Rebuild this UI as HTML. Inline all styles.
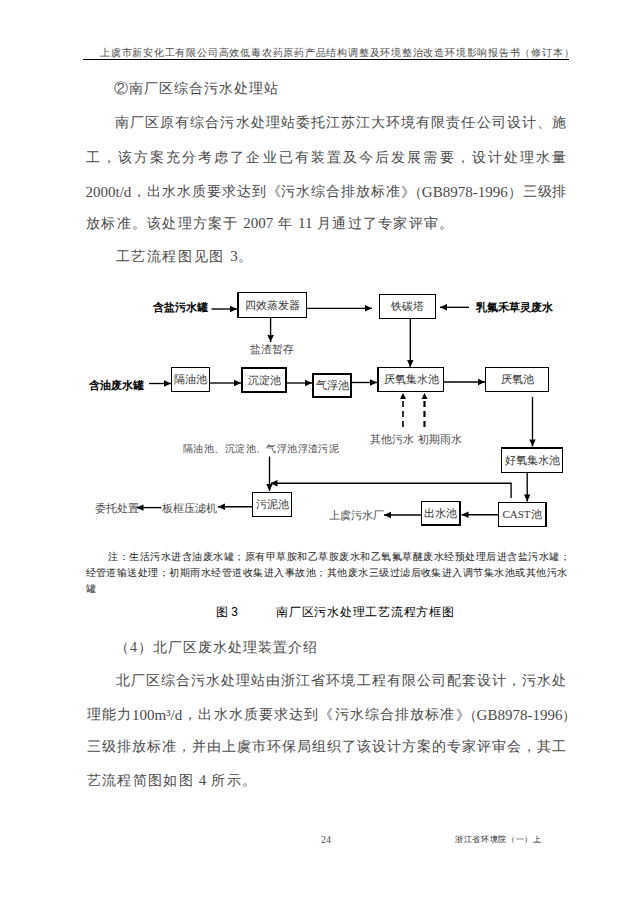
<!DOCTYPE html>
<html><head><meta charset="utf-8"><style>
html,body{margin:0;padding:0;background:#fff;width:636px;height:900px;overflow:hidden;}
body{position:relative;font-family:"Liberation Serif",serif;color:#4a4a4a;}
.j,.n{position:absolute;white-space:nowrap;}
.j{display:flex;justify-content:space-between;height:1em;}
i{font-style:normal;white-space:nowrap;}
.big .lt{font-size:15px;letter-spacing:0;}
.n .lt{line-height:0;}
.note{color:#222;}
.cap{color:#000;font-family:"Liberation Sans",sans-serif;}
.b{color:#000;font-family:"Liberation Sans",sans-serif;font-weight:bold;}
sup{font-size:60%;line-height:0;vertical-align:0.55em;}
.box{position:absolute;box-sizing:border-box;border:2px solid #000;display:flex;align-items:center;justify-content:center;font-size:11px;line-height:11px;color:#333;}
</style></head><body>
<div class="j " style="left:100px;top:48px;font-size:10px;line-height:10px;width:474px;"><i>上</i><i>虞</i><i>市</i><i>新</i><i>安</i><i>化</i><i>工</i><i>有</i><i>限</i><i>公</i><i>司</i><i>高</i><i>效</i><i>低</i><i>毒</i><i>农</i><i>药</i><i>原</i><i>药</i><i>产</i><i>品</i><i>结</i><i>构</i><i>调</i><i>整</i><i>及</i><i>环</i><i>境</i><i>整</i><i>治</i><i>改</i><i>造</i><i>环</i><i>境</i><i>影</i><i>响</i><i>报</i><i>告</i><i>书</i><i>（</i><i>修</i><i>订</i><i>本</i><i>）</i></div>
<div style="position:absolute;left:83px;top:59px;width:486px;height:1.4px;background:#000"></div>
<div class="n " style="left:114px;top:82px;font-size:14px;line-height:14px;letter-spacing:1px;">②南厂区综合污水处理站</div>
<div class="j " style="left:115px;top:116px;font-size:14px;line-height:14px;width:451px;"><i>南</i><i>厂</i><i>区</i><i>原</i><i>有</i><i>综</i><i>合</i><i>污</i><i>水</i><i>处</i><i>理</i><i>站</i><i>委</i><i>托</i><i>江</i><i>苏</i><i>江</i><i>大</i><i>环</i><i>境</i><i>有</i><i>限</i><i>责</i><i>任</i><i>公</i><i>司</i><i>设</i><i>计</i><i>、</i><i>施</i></div>
<div class="j " style="left:85.5px;top:151px;font-size:14px;line-height:14px;width:481px;"><i>工</i><i>，</i><i>该</i><i>方</i><i>案</i><i>充</i><i>分</i><i>考</i><i>虑</i><i>了</i><i>企</i><i>业</i><i>已</i><i>有</i><i>装</i><i>置</i><i>及</i><i>今</i><i>后</i><i>发</i><i>展</i><i>需</i><i>要</i><i>，</i><i>设</i><i>计</i><i>处</i><i>理</i><i>水</i><i>量</i></div>
<div class="j big" style="left:85.5px;top:185px;font-size:14px;line-height:14px;width:481px;"><i><span class="lt">2000t/d</span></i><i>，</i><i>出</i><i>水</i><i>水</i><i>质</i><i>要</i><i>求</i><i>达</i><i>到</i><i>《</i><i>污</i><i>水</i><i>综</i><i>合</i><i>排</i><i>放</i><i>标</i><i>准</i><i>》<span style="margin-left:-0.5em">（</span><span class="lt">GB8978-1996</span>）</i><i>三</i><i>级</i><i>排</i></div>
<div class="n big" style="left:86px;top:217px;font-size:14px;line-height:14px;letter-spacing:1.25px;">放标准。该处理方案于 <span class="lt">2007</span> 年 <span class="lt">11</span> 月通过了专家评审。</div>
<div class="n big" style="left:115.5px;top:250px;font-size:14px;line-height:14px;letter-spacing:1.65px;">工艺流程图见图 <span class="lt">3</span>。</div>
<div class="n " style="left:115px;top:641px;font-size:14px;line-height:14px;letter-spacing:1px;">（4）北厂区废水处理装置介绍</div>
<div class="j " style="left:115.5px;top:674px;font-size:14px;line-height:14px;width:451px;"><i>北</i><i>厂</i><i>区</i><i>综</i><i>合</i><i>污</i><i>水</i><i>处</i><i>理</i><i>站</i><i>由</i><i>浙</i><i>江</i><i>省</i><i>环</i><i>境</i><i>工</i><i>程</i><i>有</i><i>限</i><i>公</i><i>司</i><i>配</i><i>套</i><i>设</i><i>计</i><i>，</i><i>污</i><i>水</i><i>处</i></div>
<div class="j big" style="left:86.5px;top:708px;font-size:14px;line-height:14px;width:490px;"><i>理</i><i>能</i><i>力</i><i><span class="lt">100m³/d</span></i><i>，</i><i>出</i><i>水</i><i>水</i><i>质</i><i>要</i><i>求</i><i>达</i><i>到</i><i>《</i><i>污</i><i>水</i><i>综</i><i>合</i><i>排</i><i>放</i><i>标</i><i>准</i><i>》<span style="margin-left:-0.5em">（</span><span class="lt">GB8978-1996</span>）</i></div>
<div class="j " style="left:86.5px;top:740px;font-size:14px;line-height:14px;width:480px;"><i>三</i><i>级</i><i>排</i><i>放</i><i>标</i><i>准</i><i>，</i><i>并</i><i>由</i><i>上</i><i>虞</i><i>市</i><i>环</i><i>保</i><i>局</i><i>组</i><i>织</i><i>了</i><i>该</i><i>设</i><i>计</i><i>方</i><i>案</i><i>的</i><i>专</i><i>家</i><i>评</i><i>审</i><i>会</i><i>，</i><i>其</i><i>工</i></div>
<div class="n big" style="left:86.5px;top:774px;font-size:14px;line-height:14px;letter-spacing:1.35px;">艺流程简图如图 <span class="lt">4</span> 所示。</div>
<div class="j note" style="left:108px;top:552px;font-size:10px;line-height:10px;width:462px;"><i>注</i><i>：</i><i>生</i><i>活</i><i>污</i><i>水</i><i>进</i><i>含</i><i>油</i><i>废</i><i>水</i><i>罐</i><i>；</i><i>原</i><i>有</i><i>甲</i><i>草</i><i>胺</i><i>和</i><i>乙</i><i>草</i><i>胺</i><i>废</i><i>水</i><i>和</i><i>乙</i><i>氧</i><i>氟</i><i>草</i><i>醚</i><i>废</i><i>水</i><i>经</i><i>预</i><i>处</i><i>理</i><i>后</i><i>进</i><i>含</i><i>盐</i><i>污</i><i>水</i><i>罐</i><i>；</i></div>
<div class="j note" style="left:85.5px;top:568px;font-size:10px;line-height:10px;width:482px;"><i>经</i><i>管</i><i>道</i><i>输</i><i>送</i><i>处</i><i>理</i><i>；</i><i>初</i><i>期</i><i>雨</i><i>水</i><i>经</i><i>管</i><i>道</i><i>收</i><i>集</i><i>进</i><i>入</i><i>事</i><i>故</i><i>池</i><i>；</i><i>其</i><i>他</i><i>废</i><i>水</i><i>三</i><i>级</i><i>过</i><i>滤</i><i>后</i><i>收</i><i>集</i><i>进</i><i>入</i><i>调</i><i>节</i><i>集</i><i>水</i><i>池</i><i>或</i><i>其</i><i>他</i><i>污</i><i>水</i></div>
<div class="n note" style="left:85.5px;top:584px;font-size:10px;line-height:10px;">罐</div>
<div class="n cap" style="left:216px;top:606px;font-size:12px;line-height:12px;">图 3</div>
<div class="j cap" style="left:276px;top:606px;font-size:12px;line-height:12px;width:178px;"><i>南</i><i>厂</i><i>区</i><i>污</i><i>水</i><i>处</i><i>理</i><i>工</i><i>艺</i><i>流</i><i>程</i><i>方</i><i>框</i><i>图</i></div>
<div class="n " style="left:321px;top:835px;font-size:10px;line-height:10px;">24</div>
<div class="j note" style="left:455px;top:836px;font-size:8px;line-height:8px;width:86px;"><i>浙</i><i>江</i><i>省</i><i>环</i><i>境</i><i>院</i><i>（</i><i>一</i><i>）</i><i>上</i></div>
<div class="box" style="left:237px;top:292px;width:70px;height:26px;border-width:1.3px 1.3px 1.4px 2.2px;"><span>四效蒸发器</span></div>
<div class="box" style="left:379px;top:294px;width:57px;height:25px;border-width:1.2px 1.2px 1.2px 1.2px;"><span>铁碳塔</span></div>
<div class="box" style="left:171px;top:367px;width:39px;height:25px;border-width:1.2px 1.2px 1.2px 1.2px;"><span>隔油池</span></div>
<div class="box" style="left:241px;top:367px;width:46px;height:26px;border-width:2px 2px 2px 2px;"><span>沉淀池</span></div>
<div class="box" style="left:312px;top:373px;width:40px;height:25px;border-width:2px 2px 2px 2px;"><span>气浮池</span></div>
<div class="box" style="left:377px;top:367px;width:67px;height:25px;border-width:1.5px 1.5px 1.5px 2px;"><span>厌氧集水池</span></div>
<div class="box" style="left:485px;top:367px;width:64px;height:25px;border-width:1.2px 1.2px 1.2px 1.2px;"><span>厌氧池</span></div>
<div class="box" style="left:501px;top:447px;width:62px;height:26px;border-width:2px 1.3px 1.3px 1.3px;"><span>好氧集水池</span></div>
<div class="box" style="left:498px;top:502px;width:49px;height:25px;border-width:1.5px 2px 1.5px 1.5px;"><span>CAST池</span></div>
<div class="box" style="left:421px;top:501px;width:40px;height:25px;border-width:1.5px 2px 2px 1.5px;"><span>出水池</span></div>
<div class="box" style="left:252px;top:492px;width:40px;height:25px;border-width:1.2px 1.2px 1.2px 1.2px;"><span>污泥池</span></div>
<div class="n b" style="left:153px;top:302px;font-size:11px;line-height:11px;">含盐污水罐</div>
<div class="n b" style="left:476px;top:302px;font-size:11px;line-height:11px;">乳氟禾草灵废水</div>
<div class="n b" style="left:89px;top:380px;font-size:11px;line-height:11px;">含油废水罐</div>
<div class="n " style="left:250px;top:344px;font-size:11px;line-height:11px;">盐渣暂存</div>
<div class="n " style="left:370px;top:434px;font-size:11px;line-height:11px;">其他污水</div>
<div class="n " style="left:418px;top:434px;font-size:11px;line-height:11px;">初期雨水</div>
<div class="n " style="left:95px;top:503px;font-size:11px;line-height:11px;">委托处置</div>
<div class="n " style="left:162px;top:503px;font-size:11px;line-height:11px;">板框压滤机</div>
<div class="n " style="left:329px;top:510px;font-size:11px;line-height:11px;">上虞污水厂</div>
<div class="j " style="left:183px;top:444px;font-size:10.3px;line-height:10.3px;width:156px;"><i>隔</i><i>油</i><i>池</i><i>、</i><i>沉</i><i>淀</i><i>池</i><i>、</i><i>气</i><i>浮</i><i>池</i><i>浮</i><i>渣</i><i>污</i><i>泥</i></div>
<svg width="636" height="900" style="position:absolute;left:0;top:0"><line x1="211.5" y1="309" x2="237" y2="309" stroke="#000" stroke-width="1.35"/><path d="M237.0,309.0 L230.0,312.2 L230.0,305.8 Z" fill="#000"/><line x1="307" y1="308.3" x2="372" y2="308.3" stroke="#000" stroke-width="1.35"/><path d="M372.0,308.3 L365.0,311.5 L365.0,305.1 Z" fill="#000"/><line x1="469" y1="307.3" x2="440" y2="307.3" stroke="#000" stroke-width="1.35"/><path d="M440.0,307.3 L447.0,304.1 L447.0,310.5 Z" fill="#000"/><line x1="270.6" y1="318" x2="270.6" y2="342" stroke="#000" stroke-width="1.35"/><path d="M270.6,342.0 L267.4,335.0 L273.8,335.0 Z" fill="#000"/><line x1="410.3" y1="318" x2="410.3" y2="367" stroke="#000" stroke-width="1.35"/><path d="M410.3,367.0 L407.1,360.0 L413.5,360.0 Z" fill="#000"/><line x1="149" y1="383.5" x2="171" y2="383.5" stroke="#000" stroke-width="1.35"/><path d="M171.0,383.5 L164.0,386.7 L164.0,380.3 Z" fill="#000"/><line x1="210" y1="383" x2="241" y2="383" stroke="#000" stroke-width="1.35"/><path d="M241.0,383.0 L234.0,386.2 L234.0,379.8 Z" fill="#000"/><line x1="287" y1="383" x2="312" y2="383" stroke="#000" stroke-width="1.35"/><path d="M312.0,383.0 L305.0,386.2 L305.0,379.8 Z" fill="#000"/><line x1="352" y1="382.5" x2="377" y2="382.5" stroke="#000" stroke-width="1.35"/><path d="M377.0,382.5 L370.0,385.7 L370.0,379.3 Z" fill="#000"/><line x1="444" y1="382" x2="485" y2="382" stroke="#000" stroke-width="1.35"/><path d="M485.0,382.0 L478.0,385.2 L478.0,378.8 Z" fill="#000"/><line x1="532.5" y1="397" x2="532.5" y2="446.5" stroke="#000" stroke-width="1.35"/><path d="M532.5,446.5 L529.3,439.5 L535.7,439.5 Z" fill="#000"/><line x1="527.2" y1="473" x2="527.2" y2="501.5" stroke="#000" stroke-width="1.35"/><path d="M527.2,501.5 L524.0,494.5 L530.4,494.5 Z" fill="#000"/><line x1="498" y1="514.7" x2="461.5" y2="514.7" stroke="#000" stroke-width="1.35"/><path d="M461.5,514.7 L468.5,511.5 L468.5,517.9 Z" fill="#000"/><line x1="421" y1="515" x2="384" y2="515" stroke="#000" stroke-width="1.35"/><path d="M384.0,515.0 L391.0,511.8 L391.0,518.2 Z" fill="#000"/><line x1="269.5" y1="456.5" x2="269.5" y2="491" stroke="#000" stroke-width="1.35"/><path d="M269.5,491.0 L266.3,484.0 L272.7,484.0 Z" fill="#000"/><line x1="252" y1="506.7" x2="218" y2="506.7" stroke="#000" stroke-width="1.35"/><path d="M218.0,506.7 L225.0,503.5 L225.0,509.9 Z" fill="#000"/><line x1="161.4" y1="507.6" x2="136.5" y2="507.6" stroke="#000" stroke-width="1.35"/><path d="M136.5,507.6 L143.5,504.4 L143.5,510.8 Z" fill="#000"/><line x1="403" y1="427" x2="403" y2="397" stroke="#000" stroke-width="1.6" stroke-dasharray="6,4"/><path d="M403.0,393.0 L406.0,399.0 L400.0,399.0 Z" fill="#000"/><line x1="424.5" y1="427" x2="424.5" y2="397" stroke="#000" stroke-width="2.2" stroke-dasharray="6,4"/><path d="M424.5,393.0 L427.5,399.0 L421.5,399.0 Z" fill="#000"/><polyline points="511.1,498 511.1,483.2 271,483.2" fill="none" stroke="#000" stroke-width="1.35"/><path d="M270.5,483.2 L277.5,480.0 L277.5,486.4 Z" fill="#000"/></svg>
</body></html>
